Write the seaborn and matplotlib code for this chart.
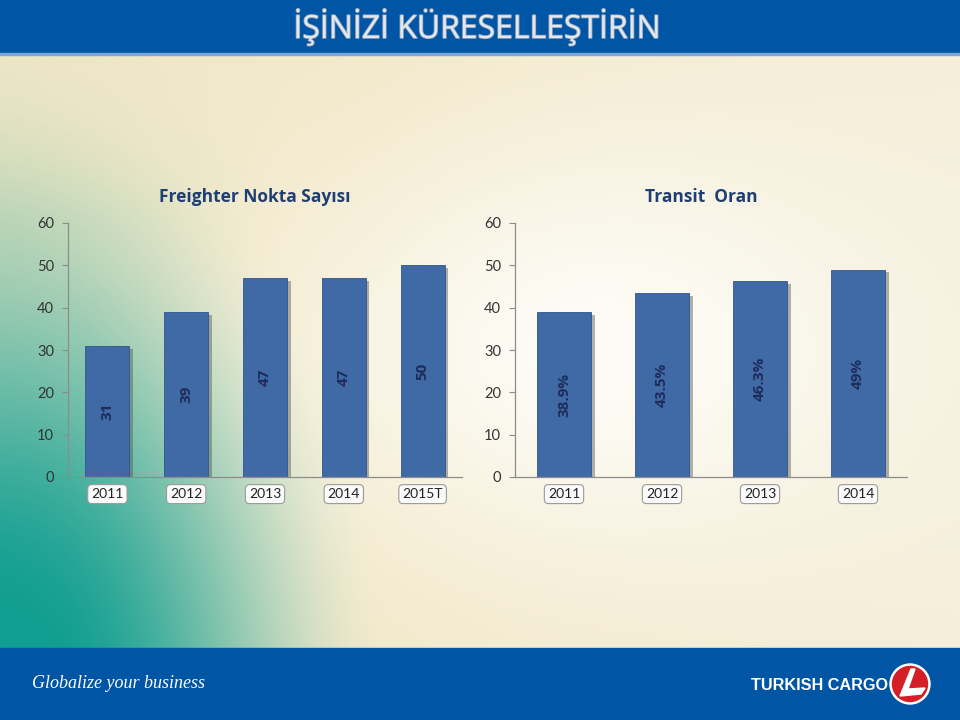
import numpy as np
import pandas as pd
import matplotlib
matplotlib.use("Agg")
import matplotlib.pyplot as plt
import matplotlib.patheffects as pe
from matplotlib.patches import Rectangle, Circle, Polygon
import seaborn as sns

# ---- data ----
left_years = ["2011", "2012", "2013", "2014", "2015T"]
left_values = [31, 39, 47, 47, 50]
left_labels = ["31", "39", "47", "47", "50"]
right_years = ["2011", "2012", "2013", "2014"]
right_values = [38.9, 43.5, 46.3, 49]
right_labels = ["38.9%", "43.5%", "46.3%", "49%"]
y_ticks = [0, 10, 20, 30, 40, 50, 60]
left_title = "Freighter Nokta Sayısı"
right_title = "Transit  Oran"
banner_title = "İŞİNİZİ KÜRESELLEŞTİRİN"

sns.set_theme(style="white")
plt.rcParams["font.family"] = ["Lato", "DejaVu Sans"]

W, H = 960, 720
fig = plt.figure(figsize=(9.6, 7.2), dpi=100)

# ---- background ----
ax_bg = fig.add_axes([0, 0, 1, 1], zorder=-10)
yy, xx = np.mgrid[0:H, 0:W].astype(float)
base = np.array([242, 232, 200], float)
img = np.ones((H, W, 3)) * base
wr = np.clip((xx - 380) / 580, 0, 1)[..., None] * 0.55
img = img * (1 - wr) + np.array([247, 243, 232]) * wr
w1 = np.exp(-(((xx - 600) / 320) ** 2 + ((yy - 350) / 220) ** 2))[..., None]
img = img * (1 - w1) + np.array([253, 252, 246]) * w1
# soft green tint on upper left
wg = (np.clip(1 - xx / 280, 0, 1) * np.clip(1 - np.abs(yy - 220) / 220, 0, 1) * 0.35)[..., None]
img = img * (1 - wg) + np.array([170, 205, 170]) * wg
# teal corner (smooth falloff)
d = np.sqrt((xx / 360) ** 2 + ((H - yy) / 580) ** 2)
t = np.clip((1.1 - d) / 0.95, 0, 1)
w2 = (t * t * (3 - 2 * t))[..., None]
img = img * (1 - w2) + np.array([15, 158, 145]) * w2
ax_bg.imshow(img.astype(np.uint8), extent=[0, W, H, 0], aspect="auto")
ax_bg.set_xlim(0, W)
ax_bg.set_ylim(H, 0)
ax_bg.axis("off")

banner_col = "#0155A5"
ax_bg.add_patch(Rectangle((0, 0), W, 53, color=banner_col, zorder=2))
ax_bg.add_patch(Rectangle((0, 53), W, 2, color="#7FA7D2", zorder=2))
ax_bg.add_patch(Rectangle((0, 648), W, 72, color=banner_col, zorder=2))
ax_bg.text(478, 27, banner_title, color="#E4E8EE", fontsize=23,
           ha="center", va="center", zorder=3,
           family=["Open Sans", "DejaVu Sans"],
           path_effects=[pe.withStroke(linewidth=1.2, foreground="#8FA3BD")])
ax_bg.text(32, 684, "Globalize your business", color="white", fontsize=13,
           style="italic", ha="left", va="center", zorder=3,
           family=["Liberation Serif", "DejaVu Serif"])
ax_bg.text(888, 685, "TURKISH CARGO", color="white", fontsize=11.7,
           fontweight="bold", ha="right", va="center", zorder=3,
           family=["Liberation Sans", "DejaVu Sans"])
ax_bg.add_patch(Circle((910, 684), 20, color="white", zorder=3))
ax_bg.add_patch(Circle((910, 684), 17.5, color="#D51F26", zorder=4))
ax_bg.add_patch(Polygon([(911, 669), (915, 669), (908, 689), (925, 688),
                         (921, 694), (900, 696)], closed=True, color="white", zorder=5))

bar_color = "#3F6AA6"
label_color = "#1E2C5A"
title_color = "#1F3F73"


def draw_panel(rect, cats, vals, labels, title):
    ax = fig.add_axes(rect)
    ax.patch.set_alpha(0)
    df = pd.DataFrame({"cat": cats, "val": vals})
    sns.barplot(data=df, x="cat", y="val", ax=ax, color=bar_color,
                width=0.56, saturation=1, edgecolor="#2F5590", linewidth=0.6)
    for p in ax.patches:
        p.set_path_effects([pe.SimplePatchShadow(offset=(2.5, -2), shadow_rgbFace="#555555", alpha=0.45),
                            pe.Normal()])
    ax.bar_label(ax.containers[0], labels=labels, label_type="center",
                 rotation=90, color=label_color, fontsize=11, fontweight="bold",
                 family=["Open Sans", "DejaVu Sans"])
    n = len(cats)
    ax.set_xlim(-0.5, n - 0.5)
    ax.set_ylim(0, 60)
    ax.set_yticks(y_ticks)
    ax.set_yticklabels([str(t) for t in y_ticks], fontsize=10.5, color="#333333")
    ax.set_xlabel("")
    ax.set_ylabel("")
    ax.set_xticks(range(n))
    ax.set_xticklabels(cats, fontsize=10, color="#222222")
    for t in ax.get_xticklabels():
        t.set_bbox(dict(boxstyle="round,pad=0.25,rounding_size=0.3", fc="#FAFAFA",
                        ec="#9A9A9A", lw=0.8))
    ax.set_xticks(np.arange(-0.5, n, 1.0), minor=True)
    ax.tick_params(axis="x", which="major", length=0, pad=8)
    ax.tick_params(axis="x", which="minor", length=5, width=0.8, color="#8C8C8C", direction="out")
    ax.tick_params(axis="y", which="major", length=4, width=0.8, color="#8C8C8C", pad=6, left=True)
    for s in ["top", "right"]:
        ax.spines[s].set_visible(False)
    for s in ["left", "bottom"]:
        ax.spines[s].set_color("#8C8C8C")
        ax.spines[s].set_linewidth(0.9)
    ax.set_title(title, color=title_color, fontsize=12.5, fontweight="bold",
                 pad=15, x=0.475, family=["Open Sans", "DejaVu Sans"])
    return ax


draw_panel([68 / W, 243 / H, 394 / W, 254 / H], left_years, left_values, left_labels, left_title)
draw_panel([515 / W, 243 / H, 392 / W, 254 / H], right_years, right_values, right_labels, right_title)

fig.savefig("out.png", dpi=100)
